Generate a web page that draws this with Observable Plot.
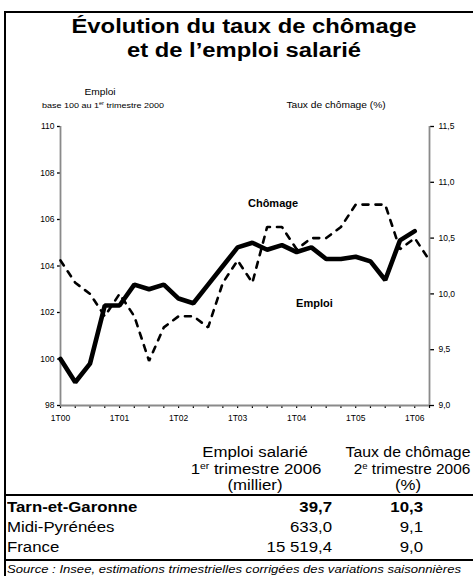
<!DOCTYPE html>
<html><head><meta charset="utf-8">
<script src="https://cdn.jsdelivr.net/npm/d3@7"></script>
<script src="https://cdn.jsdelivr.net/npm/@observablehq/plot@0.6"></script>
<style>
body{margin:0;background:#fff;font-family:"Liberation Sans",Arial,sans-serif;color:#000}
#wrap{position:relative;width:473px;height:576px;overflow:hidden;background:#fff}
.t{position:absolute;white-space:nowrap;line-height:1}
.box{position:absolute;left:4px;top:11px;width:490px;height:620px;border-left:2px solid #000;border-top:2px solid #000;box-sizing:border-box}
.rule{position:absolute;left:4px;width:480px;height:2px;background:#000}
sup{font-size:0.62em;line-height:0;vertical-align:0.6em}
#chart{position:absolute;left:0;top:80px}
</style></head>
<body><div id="wrap"><div class="box"></div><div id="chart"></div></div>
<script>
// ---- data ----
const quarters = d3.range(0, 26); // 1T00 .. 2T06 (index of quarter)
const xTickLabels = ["1T00","1T01","1T02","1T03","1T04","1T05","1T06"];
const emploi = [100, 99.0, 99.8, 102.3, 102.3, 103.2, 103.0, 103.2, 102.6, 102.4, 103.2, 104.0, 104.8, 105.0, 104.7, 104.9, 104.6, 104.8, 104.3, 104.3, 104.4, 104.2, 103.4, 105.1, 105.5];
const chomage = [10.3, 10.1, 10.0, 9.8, 10.0, 9.8, 9.4, 9.7, 9.8, 9.8, 9.7, 10.1, 10.3, 10.1, 10.6, 10.6, 10.4, 10.5, 10.5, 10.6, 10.8, 10.8, 10.8, 10.4, 10.5, 10.3];
const leftTicks = [98, 100, 102, 104, 106, 108, 110];
const rightTicks = [9.0, 9.5, 10.0, 10.5, 11.0, 11.5];
const lineLabels = [{x: 14.4, y: 106.7, text: "Chômage"}, {x: 17.2, y: 102.4, text: "Emploi"}];
const regions = ["Tarn-et-Garonne", "Midi-Pyrénées", "France"];
const emploiSalarie = ["39,7", "633,0", "15 519,4"];
const tauxChomage = ["10,3", "9,1", "9,0"];

// ---- scales: right axis (chômage 9–11.5) onto left axis (emploi 98–110)
const toLeft = v => 98 + (v - 9) * 12 / 2.5;
const toRight = p => 9 + (p - 98) * 2.5 / 12;
const fr = d => d3.format(".1f")(d).replace(".", ",");

const emploiData = emploi.map((v, i) => ({q: quarters[i], v}));
const chomData = chomage.map((v, i) => ({q: quarters[i], v: toLeft(v)}));

const grey = "#8a8a8a";
const plot = Plot.plot({
  width: 473, height: 360,
  marginLeft: 60, marginRight: 44, marginTop: 46, marginBottom: 35,
  x: {domain: [0, 25]},
  y: {domain: [98, 110]},
  style: {fontFamily: "'Liberation Sans', Arial, sans-serif", fontSize: "8.5px", color: "#000", background: "transparent", overflow: "visible"},
  marks: [
    Plot.axisY({ticks: leftTicks, tickSize: 3, tickPadding: 3, label: null, tickFormat: d => String(d), strokeWidth: 1.3}),
    Plot.axisY({ticks: rightTicks.map(toLeft), anchor: "right", tickSize: 4, tickPadding: 5, label: null, tickFormat: p => fr(toRight(p)), strokeWidth: 1.3}),
    Plot.axisX({ticks: quarters, tickSize: 3, tickPadding: 6, label: null, tickFormat: d => d % 4 === 0 ? xTickLabels[d / 4] : "", strokeWidth: 1.2}),
    Plot.ruleX([0, 25], {stroke: grey, strokeWidth: 1.8}),
    Plot.ruleY([98], {stroke: grey, strokeWidth: 1.8}),
    Plot.line(chomData, {x: "q", y: "v", stroke: "#000", strokeWidth: 2.6, strokeDasharray: "6,7", strokeLinejoin: "miter"}),
    Plot.line(emploiData, {x: "q", y: "v", stroke: "#000", strokeWidth: 4.6, strokeLinejoin: "miter"}),
    Plot.text(lineLabels, {x: "x", y: "y", text: "text", fontWeight: "bold", fontSize: 11, fill: "#000"})
  ]
});
document.getElementById("chart").appendChild(plot);

// ---- HTML texts ----
const wrap = document.getElementById("wrap");
function place(html, x, baseline, fs, anchor, opts = {}) {
  const s = opts.sx || 1.2;
  const d = document.createElement("div");
  d.className = "t";
  d.innerHTML = html;
  d.style.fontSize = fs + "px";
  d.style.left = x + "px";
  d.style.top = (baseline - 0.85 * fs) + "px";
  if (opts.bold) d.style.fontWeight = "bold";
  if (opts.italic) d.style.fontStyle = "italic";
  if (anchor === "middle") { d.style.transformOrigin = "50% 50%"; d.style.transform = `translateX(-50%) scaleX(${s})`; }
  else if (anchor === "end") { d.style.transformOrigin = "100% 50%"; d.style.transform = `translateX(-100%) scaleX(${s})`; }
  else { d.style.transformOrigin = "0 50%"; d.style.transform = `scaleX(${s})`; }
  wrap.appendChild(d);
}
place("Évolution du taux de chômage", 244, 34, 19.5, "middle", {bold: true, sx: 1.22});
place("et de l’emploi salarié", 244, 58, 19.5, "middle", {bold: true, sx: 1.22});
place("Emploi", 100, 95, 8.5, "middle");
place("base 100 au 1<sup>er</sup> trimestre 2000", 103, 108, 7.5, "middle");
place("Taux de chômage (%)", 336, 108, 8.5, "middle");

place("Emploi salarié", 255, 457, 14, "middle", {sx: 1.2});
place("1<sup>er</sup> trimestre 2006", 256, 474, 14, "middle", {sx: 1.2});
place("(millier)", 255, 490, 14, "middle", {sx: 1.2});
place("Taux de chômage", 408, 457, 14, "middle", {sx: 1.13});
place("2<sup>e</sup> trimestre 2006", 412, 474, 14, "middle", {sx: 1.1});
place("(%)", 408, 490, 14, "middle", {sx: 1.2});

const rule1 = document.createElement("div"); rule1.className = "rule"; rule1.style.top = "494px"; wrap.appendChild(rule1);
const rowBase = [512, 532, 552];
regions.forEach((r, i) => {
  const b = i === 0;
  place(r, 7, rowBase[i], 14, "start", {bold: b});
  place(emploiSalarie[i], 332, rowBase[i], 14, "end", {bold: b});
  place(tauxChomage[i], 423, rowBase[i], 14, "end", {bold: b});
});
const rule2 = document.createElement("div"); rule2.className = "rule"; rule2.style.top = "559px"; wrap.appendChild(rule2);
place("Source : Insee, estimations trimestrielles corrigées des variations saisonnières", 7, 573, 11, "start", {italic: true, sx: 1.19});
</script>
</body></html>
